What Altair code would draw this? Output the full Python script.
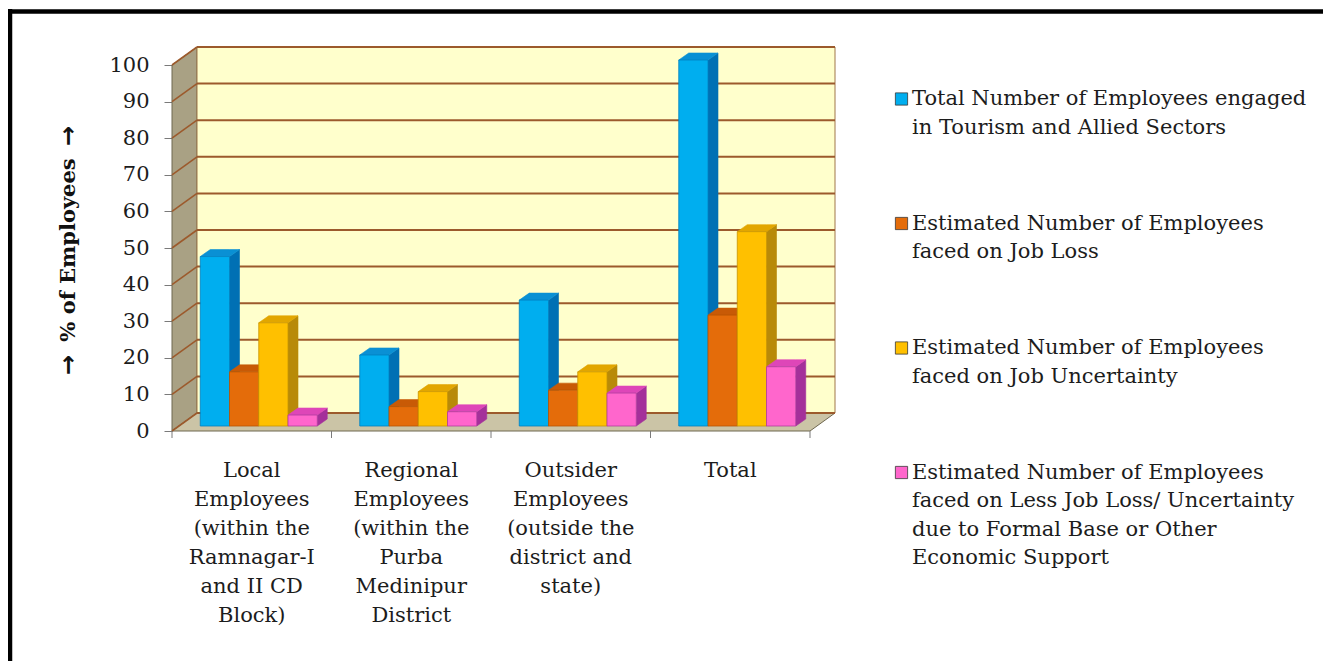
import altair as alt
import pandas as pd

# ---------------- data ----------------
CATEGORIES = ["Local", "Regional", "Outsider", "Total"]
CATEGORY_LINES = [
    ["Local", "Employees", "(within the", "Ramnagar-I", "and II CD", "Block)"],
    ["Regional", "Employees", "(within the", "Purba", "Medinipur", "District"],
    ["Outsider", "Employees", "(outside the", "district and", "state)"],
    ["Total"],
]
SERIES = [
    "Total Number of Employees engaged in Tourism and Allied Sectors",
    "Estimated Number of Employees faced on Job Loss",
    "Estimated Number of Employees faced on Job Uncertainty",
    "Estimated Number of Employees faced on Less Job Loss/ Uncertainty due to Formal Base or Other Economic Support",
]
SERIES_LINES = [
    ["Total Number of Employees engaged", "in Tourism and Allied Sectors"],
    ["Estimated Number of Employees", "faced on Job Loss"],
    ["Estimated Number of Employees", "faced on Job Uncertainty"],
    ["Estimated Number of Employees", "faced on Less Job Loss/ Uncertainty",
     "due to Formal Base or Other", "Economic Support"],
]
TOTAL_ENGAGED = [46.3, 19.4, 34.4, 100.0]
JOB_LOSS = [14.8, 5.3, 9.8, 30.3]
JOB_UNCERTAINTY = [28.2, 9.4, 14.8, 53.1]
LESS_LOSS = [3.0, 3.9, 9.0, 16.2]
Y_TICKS = list(range(0, 101, 10))
Y_TITLE = "% of Employees"

VALUES = [TOTAL_ENGAGED, JOB_LOSS, JOB_UNCERTAINTY, LESS_LOSS]

# ---------------- styling / geometry ----------------
FRONT = ["#00AEEF", "#E46C0A", "#FFC000", "#FF66CC"]
TOP = ["#0A90D4", "#C85A06", "#E2A600", "#DE46B8"]
SIDE = ["#0070B4", "#A84A00", "#B88A08", "#A4309A"]
EDGE = ["#0080C0", "#B85400", "#C89400", "#B03CA0"]
FONT = "DejaVu Serif"
TXT = "#1c1c1c"

W, H = 638, 366
NCAT = len(CATEGORIES)
PX_X = W / NCAT          # pixels per category unit
PX_Y = H / 100.0         # pixels per percent


def ux(px):
    return px / PX_X


def uy(px):  # upward pixels -> value units
    return px / PX_Y


FRONT_DX, FRONT_DY = ux(-7), uy(-5)   # front plane (axes)
BACK_DX, BACK_DY = ux(18), uy(13)     # back wall plane
BW = ux(29.25)                        # bar width
BDX, BDY = ux(10), uy(7)              # bar depth

XS = alt.Scale(domain=[0, NCAT], nice=False, zero=False)
YS = alt.Scale(domain=[0, 100], nice=False, zero=False)

# ---------------- walls ----------------
side_wall = pd.DataFrame([
    {"x": FRONT_DX, "lo": FRONT_DY, "hi": 100 + FRONT_DY},
    {"x": BACK_DX, "lo": BACK_DY, "hi": 100 + BACK_DY},
])
floor = pd.DataFrame([
    {"x": FRONT_DX, "lo": FRONT_DY, "hi": FRONT_DY},
    {"x": BACK_DX, "lo": FRONT_DY, "hi": BACK_DY},
    {"x": NCAT + FRONT_DX, "lo": FRONT_DY, "hi": BACK_DY},
    {"x": NCAT + BACK_DX, "lo": BACK_DY, "hi": BACK_DY},
])
back = pd.DataFrame([{"x0": BACK_DX, "x1": NCAT + BACK_DX, "lo": BACK_DY, "hi": 100 + BACK_DY}])
grid = pd.DataFrame({"v": Y_TICKS})

side_layer = alt.Chart(side_wall).mark_area(color="#A9A184", stroke="#6f6850", strokeWidth=1).encode(
    x=alt.X("x:Q", scale=XS, axis=None),
    y=alt.Y("lo:Q", scale=YS, axis=None, stack=None),
    y2="hi:Q",
)
floor_layer = alt.Chart(floor).mark_area(color="#CBC4A6", stroke="#6f6850", strokeWidth=1).encode(
    x=alt.X("x:Q", scale=XS, axis=None),
    y=alt.Y("lo:Q", scale=YS, axis=None, stack=None),
    y2="hi:Q",
)
back_layer = alt.Chart(back).mark_rect(color="#FFFFCC", stroke="#A0764A", strokeWidth=1).encode(
    x=alt.X("x0:Q", scale=XS, axis=None), x2="x1:Q",
    y=alt.Y("lo:Q", scale=YS, axis=None), y2="hi:Q",
)
grid_back = alt.Chart(grid).transform_calculate(
    yy=f"datum.v + {BACK_DY}", xa=f"{BACK_DX}", xb=f"{NCAT + BACK_DX}"
).mark_rule(color="#9C5A2C", strokeWidth=2).encode(
    x=alt.X("xa:Q", scale=XS, axis=None), x2="xb:Q",
    y=alt.Y("yy:Q", scale=YS, axis=None),
)
grid_side = alt.Chart(grid).transform_calculate(
    ya=f"datum.v + {FRONT_DY}", yb=f"datum.v + {BACK_DY}", xa=f"{FRONT_DX}", xb=f"{BACK_DX}"
).mark_rule(color="#9C5A2C", strokeWidth=1.6).encode(
    x=alt.X("xa:Q", scale=XS, axis=None), x2="xb:Q",
    y=alt.Y("ya:Q", scale=YS, axis=None), y2="yb:Q",
)

# ---------------- bars (3-D faces) ----------------
fr, sd, tp = [], [], []
for c, cat in enumerate(CATEGORIES):
    for s, ser in enumerate(SERIES):
        v = VALUES[s][c]
        x0 = c + 0.5 + (s - 2) * BW
        x1 = x0 + BW
        bid = f"{c}-{s}"
        fr.append(dict(id=bid, category=cat, series=ser, value=v, x0=x0, x1=x1, lo=0.0,
                       fill=FRONT[s], edge=EDGE[s]))
        sd += [dict(id=bid, x=x1, lo=0.0, hi=v, fill=SIDE[s]),
               dict(id=bid, x=x1 + BDX, lo=BDY, hi=v + BDY, fill=SIDE[s])]
        tp += [dict(id=bid, x=x0, lo=v, hi=v, fill=TOP[s]),
               dict(id=bid, x=x0 + BDX, lo=v, hi=v + BDY, fill=TOP[s]),
               dict(id=bid, x=x1, lo=v, hi=v + BDY, fill=TOP[s]),
               dict(id=bid, x=x1 + BDX, lo=v + BDY, hi=v + BDY, fill=TOP[s])]
front_df, side_df, top_df = pd.DataFrame(fr), pd.DataFrame(sd), pd.DataFrame(tp)

bar_side = alt.Chart(side_df).mark_area(strokeWidth=0.6).encode(
    x=alt.X("x:Q", scale=XS, axis=None),
    y=alt.Y("lo:Q", scale=YS, axis=None, stack=None), y2="hi:Q",
    detail="id:N",
    color=alt.Color("fill:N", scale=None),
    stroke=alt.Stroke("fill:N", scale=None),
)
bar_top = alt.Chart(top_df).mark_area(strokeWidth=0.6).encode(
    x=alt.X("x:Q", scale=XS, axis=None),
    y=alt.Y("lo:Q", scale=YS, axis=None, stack=None), y2="hi:Q",
    detail="id:N",
    color=alt.Color("fill:N", scale=None),
    stroke=alt.Stroke("fill:N", scale=None),
)
bar_front = alt.Chart(front_df).mark_rect(strokeWidth=0.8).encode(
    x=alt.X("x0:Q", scale=XS, axis=None), x2="x1:Q",
    y=alt.Y("value:Q", scale=YS, axis=alt.Axis(
        values=Y_TICKS, offset=7, tickOffset=5, domain=False, grid=False,
        tickSize=8, tickColor="#7a7a7a", tickWidth=1,
        labelFont=FONT, labelFontSize=21, labelColor=TXT, labelPadding=15,
        title=None)),
    y2="lo:Q",
    color=alt.Color("fill:N", scale=None),
    stroke=alt.Stroke("edge:N", scale=None),
    tooltip=["category:N", "series:N", "value:Q"],
)

# ---------------- x ticks and labels ----------------
xt = pd.DataFrame({"c": list(range(NCAT + 1))})
x_ticks = alt.Chart(xt).transform_calculate(
    xx=f"datum.c + {FRONT_DX}", ya=f"{FRONT_DY}", yb=f"{FRONT_DY - uy(7)}"
).mark_rule(color="#7a7a7a", strokeWidth=1).encode(
    x=alt.X("xx:Q", scale=XS, axis=None),
    y=alt.Y("ya:Q", scale=YS, axis=None), y2="yb:Q",
)
lab_df = pd.DataFrame({"c": list(range(NCAT)), "txt": ["|".join(l) for l in CATEGORY_LINES]})
x_labels = alt.Chart(lab_df).transform_calculate(
    xx=f"datum.c + 0.5 + {FRONT_DX}"
).mark_text(font=FONT, fontSize=21, lineBreak="|", lineHeight=29, align="center",
            baseline="alphabetic", color=TXT).encode(
    x=alt.X("xx:Q", scale=XS, axis=None),
    y=alt.value(417),
    text="txt:N",
)

# ---------------- y title (text + two arrows) ----------------
y_title = alt.Chart(pd.DataFrame({"t": [Y_TITLE]})).mark_text(
    font=FONT, fontSize=21, fontWeight="bold", angle=270, align="center", baseline="middle",
    color="#111111").encode(x=alt.value(-110), y=alt.value(190), text="t:N")
arrows = alt.Chart(pd.DataFrame({"t": ["\u2192", "\u2192"], "ay": [76, 305]})).mark_text(
    font="DejaVu Sans", fontSize=24, fontWeight="bold", angle=270, align="center",
    baseline="middle", color="#111111").encode(
    x=alt.value(-110), y=alt.Y("ay:Q", scale=None, axis=None), text="t:N")

# ---------------- legend (manual) ----------------
leg = pd.DataFrame({"i": list(range(len(SERIES))),
                    "txt": ["|".join(l) for l in SERIES_LINES],
                    "fill": FRONT})
leg_sq = alt.Chart(leg).transform_calculate(
    ly="39 + datum.i * 124.5", lx="722.5"
).mark_square(size=150, stroke="#3a3a3a", strokeWidth=0.8, opacity=1).encode(
    x=alt.X("lx:Q", scale=None, axis=None),
    y=alt.Y("ly:Q", scale=None, axis=None),
    color=alt.Color("fill:N", scale=None),
)
leg_tx = alt.Chart(leg).transform_calculate(
    ly="45 + datum.i * 124.5", lx="733"
).mark_text(font=FONT, fontSize=21, lineBreak="|", lineHeight=28.5, align="left",
            baseline="alphabetic", color=TXT).encode(
    x=alt.X("lx:Q", scale=None, axis=None),
    y=alt.Y("ly:Q", scale=None, axis=None),
    text="txt:N",
)

# ---------------- outer frame ----------------
one = pd.DataFrame({"a": [0]})
frame_left = alt.Chart(one).mark_rule(color="black", strokeWidth=4.5).encode(
    x=alt.value(-169), y=alt.value(-51), y2=alt.value(620))
frame_top = alt.Chart(one).mark_rule(color="black", strokeWidth=4.5).encode(
    y=alt.value(-48.5), x=alt.value(-171), x2=alt.value(1160))

chart = alt.layer(
    side_layer, back_layer, floor_layer, grid_back, grid_side,
    bar_side, bar_top, bar_front,
    x_ticks, x_labels, y_title, arrows, leg_sq, leg_tx, frame_left, frame_top,
).resolve_scale(x="independent", y="independent").properties(
    width=W, height=H,
    autosize=alt.AutoSizeParams(type="none"),
    padding={"left": 171, "top": 52, "right": 506, "bottom": 235},
    background="white",
).configure_view(stroke=None)

chart.save("out.html", embed_options={"renderer": "svg", "actions": False})
